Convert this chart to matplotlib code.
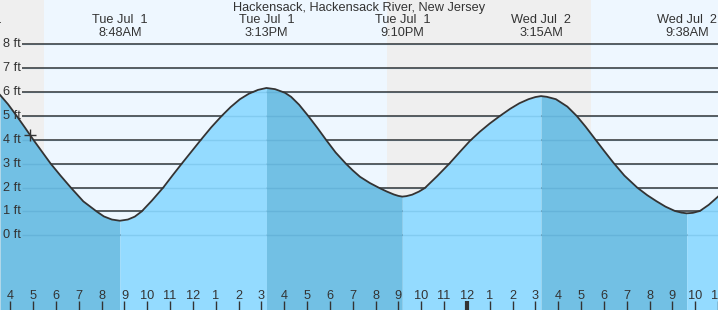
import matplotlib
matplotlib.use("Agg")
import matplotlib.pyplot as plt
import numpy as np

# tide height (ft), hours since midnight Jul 1
hours = [3.549, 3.9, 4.28, 4.65, 5.01, 5.39, 5.77, 6.2, 6.65, 7.2, 7.78,
         8.1, 8.45, 8.8,
         9.15, 9.45, 9.756, 10.2, 10.70, 11.1, 11.51, 11.93, 12.35, 12.8,
         13.26, 13.65, 14.06, 14.45, 14.85, 15.22,
         15.6, 16.03, 16.3, 16.65, 17.05, 17.45, 17.83, 18.25, 18.70, 19.0,
         19.32, 19.75, 20.19, 20.5, 20.8, 21.0, 21.17,
         21.35, 21.6, 21.9, 22.16, 22.7, 23.23, 23.7, 24.14, 24.57, 25.0,
         25.45, 25.9, 26.3, 26.7, 27.0, 27.25,
         27.5, 27.9, 28.4, 28.81, 29.2, 29.6, 30.0, 30.41, 30.9, 31.46,
         31.9, 32.3, 32.7, 33.11, 33.4, 33.63,
         33.9, 34.21, 34.6, 35.0]
heights = [5.88, 5.49, 5.0, 4.5, 4.0, 3.5, 3.0, 2.5, 2.0, 1.42, 1.0,
           0.79, 0.66, 0.61,
           0.66, 0.78, 1.0, 1.45, 2.0, 2.5, 3.0, 3.5, 4.0, 4.52,
           5.0, 5.37, 5.70, 5.93, 6.09, 6.17,
           6.12, 5.97, 5.8, 5.47, 5.0, 4.5, 4.0, 3.47, 3.0, 2.72,
           2.45, 2.19, 1.97, 1.83, 1.71, 1.65, 1.62,
           1.64, 1.70, 1.83, 1.98, 2.48, 3.0, 3.5, 3.96, 4.34, 4.68,
           5.0, 5.3, 5.53, 5.7, 5.79, 5.83,
           5.80, 5.70, 5.39, 5.0, 4.55, 4.05, 3.55, 3.05, 2.5, 2.0,
           1.68, 1.43, 1.2, 1.02, 0.95, 0.92,
           0.94, 1.02, 1.28, 1.62]

# highs / lows with their labels
extreme_times = [2.41, 8.8, 15.22, 21.17, 27.25, 33.63]
extreme_dates = ["Tue Jul  1", "Tue Jul  1", "Tue Jul  1", "Tue Jul  1",
                 "Wed Jul  2", "Wed Jul  2"]
extreme_clock = ["2:29AM", "8:48AM", "3:13PM", "9:10PM", "3:15AM", "9:38AM"]

# daylight periods
day_spans = [(5.46, 20.52), (29.42, 36.0)]
now_hour, now_height = 4.86, 4.2

ft_levels = list(range(0, 9))
hour_ticks = list(range(4, 36))

x0, x1 = 3.549, 35.0
y0, y1 = -3.129, 9.855

night_bg = "#efefef"
day_bg = "#eef7ff"
rise_fill = "#94dbff"
fall_fill = "#72c0e4"
ink = "#333333"
fs = 9.2

fig = plt.figure(figsize=(7.18, 3.10), dpi=100)
ax = fig.add_axes([0, 0, 1, 1])
ax.set_xlim(x0, x1)
ax.set_ylim(y0, y1)
ax.axis("off")

ax.axvspan(x0, x1, color=night_bg, zorder=0, lw=0)
for a, b in day_spans:
    ax.axvspan(a, b, color=day_bg, zorder=0.5, lw=0)

grid_start = x0 + 22 / 22.83
ax.hlines(ft_levels, grid_start, x1, color=ink, lw=1.1, zorder=1)

h = np.array(hours)
v = np.array(heights)
bounds = [x0] + extreme_times[1:] + [x1]
for i in range(len(bounds) - 1):
    a, b = bounds[i], bounds[i + 1]
    col = fall_fill if i % 2 == 0 else rise_fill
    m = (h >= a - 1e-6) & (h <= b + 1e-6)
    ax.fill_between(h[m], y0, v[m], color=col, lw=0, zorder=2)

# faint grid lines show through the water
ax.hlines(ft_levels, grid_start, x1, color="#1a6a9a", lw=1.0, alpha=0.14, zorder=3)

ax.plot(h, v, color=ink, lw=1.3, zorder=4, solid_joinstyle="round")
ax.plot([now_hour], [now_height], marker="+", ms=9, mew=1.0, color=ink, zorder=5)

yt = ax.get_yaxis_transform()
for f in ft_levels:
    ax.text(0.0285, f, f"{f} ft", transform=yt, ha="right", va="center",
            fontsize=fs, color=ink, family="Liberation Sans", zorder=6)

xt = ax.get_xaxis_transform()
for t in hour_ticks:
    lab = (t - 1) % 12 + 1
    ax.text(t, 1 - 296 / 310, str(lab), transform=xt, ha="center", va="center",
            fontsize=fs, color=ink, family="Liberation Sans", zorder=6)
    lw = 3 if t == 24 else 1
    ax.plot([t, t], [0, 9 / 310], transform=xt, color=ink, lw=lw, zorder=6,
            solid_capstyle="butt")

for t, d, c in zip(extreme_times, extreme_dates, extreme_clock):
    ax.text(t, 1 - 20 / 310, d, transform=xt, ha="center", va="center",
            fontsize=fs, color=ink, family="Liberation Sans", zorder=6)
    ax.text(t, 1 - 33 / 310, c, transform=xt, ha="center", va="center",
            fontsize=fs, color=ink, family="Liberation Sans", zorder=6)

ax.text(0.5, 1 - 8 / 310, "Hackensack, Hackensack River, New Jersey",
        transform=ax.transAxes, ha="center", va="center", fontsize=fs,
        color=ink, family="Liberation Sans", zorder=6)

fig.savefig("out.png", dpi=100)
